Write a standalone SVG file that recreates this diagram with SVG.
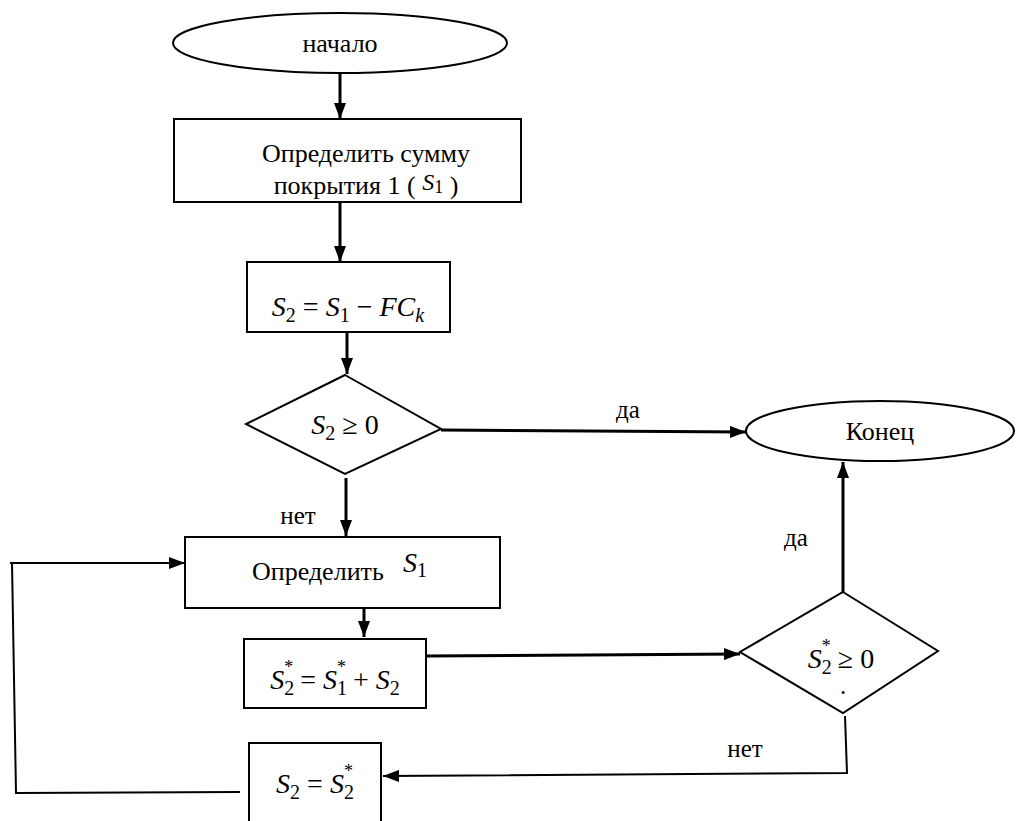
<svg xmlns="http://www.w3.org/2000/svg" width="1016" height="821" viewBox="0 0 1016 821">
<style>
  .shape { fill: #ffffff; stroke: #000000; stroke-width: 2; }
  .conn { fill: none; stroke: #000000; stroke-width: 3; }
  .thin { fill: none; stroke: #000000; stroke-width: 2; }
  .t { font-family: "Liberation Serif", "Times New Roman", serif; font-size: 26px; fill: #000000; }
  .m { font-family: "Liberation Serif", "Times New Roman", serif; font-size: 28px; fill: #000000; }
  .i { font-style: italic; }
  .sub { font-size: 20px; }
  .lbl { font-family: "Liberation Serif", "Times New Roman", serif; font-size: 25px; fill: #000000; }
</style>
<defs>
  <marker id="arr" viewBox="0 0 16 12" refX="16" refY="6" markerWidth="16" markerHeight="12" markerUnits="userSpaceOnUse" orient="auto">
    <path d="M0,0 L16,6 L0,12 Z" fill="#000000"/>
  </marker>
</defs>
<rect width="1016" height="821" fill="#ffffff"/>

<g id="connectors">
  <line class="conn" x1="340" y1="73" x2="340" y2="119" marker-end="url(#arr)"/>
  <line class="conn" x1="340" y1="202" x2="340" y2="262" marker-end="url(#arr)"/>
  <line class="conn" x1="347" y1="333" x2="347" y2="374" marker-end="url(#arr)"/>
  <line class="conn" x1="441" y1="430" x2="746" y2="432" marker-end="url(#arr)"/>
  <line class="conn" x1="346" y1="478" x2="346" y2="536" marker-end="url(#arr)"/>
  <line class="conn" x1="364" y1="608" x2="364" y2="637" marker-end="url(#arr)"/>
  <line class="conn" x1="426" y1="656" x2="740" y2="654" marker-end="url(#arr)"/>
  <line class="conn" x1="843" y1="592" x2="843" y2="462" marker-end="url(#arr)"/>
  <polyline class="thin" points="845,716 847,773 383,776" marker-end="url(#arr)"/>
  <polyline class="thin" points="240,792 16,793 12,563"/>
  <line class="thin" x1="10" y1="563" x2="185" y2="563" marker-end="url(#arr)"/>
  <text class="lbl" x="628" y="418" text-anchor="middle">да</text>
  <text class="lbl" x="298" y="524" text-anchor="middle">нет</text>
  <text class="lbl" x="796" y="546" text-anchor="middle">да</text>
  <text class="lbl" x="745" y="757" text-anchor="middle">нет</text>
</g>

<g id="start">
  <ellipse class="shape" cx="340" cy="43" rx="167" ry="30"/>
  <text class="t" x="340" y="52" text-anchor="middle">начало</text>
</g>

<g id="box1">
  <rect class="shape" x="174" y="119" width="347" height="83"/>
  <text class="t" x="366" y="162" text-anchor="middle">Определить сумму</text>
  <text class="t" x="366" y="194" text-anchor="middle">покрытия 1 ( <tspan class="i" font-size="24" dy="-4">S</tspan><tspan font-size="18" dy="3">1</tspan><tspan dy="1"> )</tspan></text>
</g>

<g id="box2">
  <rect class="shape" x="247" y="262" width="203" height="70"/>
  <text class="m" x="348" y="316" text-anchor="middle"><tspan class="i">S</tspan><tspan class="sub" dy="6">2</tspan><tspan dy="-6"> = </tspan><tspan class="i">S</tspan><tspan class="sub" dy="6">1</tspan><tspan dy="-6"> − </tspan><tspan class="i">FC</tspan><tspan class="sub i" dy="6">k</tspan></text>
</g>

<g id="decision1">
  <polygon class="shape" points="345,375 441,429 345,474 246,424"/>
  <text class="m" x="345" y="434" text-anchor="middle"><tspan class="i">S</tspan><tspan class="sub" dy="6">2</tspan><tspan dy="-6"> ≥ 0</tspan></text>
</g>

<g id="end">
  <ellipse class="shape" cx="880" cy="431" rx="134" ry="30"/>
  <text class="t" x="880" y="440" text-anchor="middle">Конец</text>
</g>

<g id="box3">
  <rect class="shape" x="185" y="537" width="315" height="71"/>
  <text class="t" x="252" y="580">Определить</text>
  <text class="m" x="403" y="572"><tspan class="i">S</tspan><tspan class="sub" dy="5">1</tspan></text>
</g>

<g id="box4">
  <rect class="shape" x="244" y="639" width="182" height="69"/>
  <text class="m" x="335" y="689" text-anchor="middle"><tspan class="i">S</tspan><tspan class="sub" dy="6">2</tspan><tspan font-size="18" dx="-10" dy="-22">*</tspan><tspan dy="16"> = </tspan><tspan class="i">S</tspan><tspan class="sub" dy="6">1</tspan><tspan font-size="18" dx="-10" dy="-22">*</tspan><tspan dy="16"> + </tspan><tspan class="i">S</tspan><tspan class="sub" dy="6">2</tspan></text>
</g>

<g id="decision2">
  <polygon class="shape" points="843,592 938,651 843,713 740,652"/>
  <text class="m" x="841" y="668" text-anchor="middle"><tspan class="i">S</tspan><tspan class="sub" dy="6">2</tspan><tspan font-size="18" dx="-10" dy="-22">*</tspan><tspan dy="16"> ≥ 0</tspan></text>
  <text class="lbl" x="843" y="694" text-anchor="middle" font-size="12">.</text>
</g>

<g id="box5">
  <rect class="shape" x="249" y="743" width="132" height="85"/>
  <text class="m" x="315" y="793" text-anchor="middle"><tspan class="i">S</tspan><tspan class="sub" dy="6">2</tspan><tspan dy="-6"> = </tspan><tspan class="i">S</tspan><tspan class="sub" dy="6">2</tspan><tspan font-size="18" dx="-10" dy="-22">*</tspan></text>
</g>
</svg>
